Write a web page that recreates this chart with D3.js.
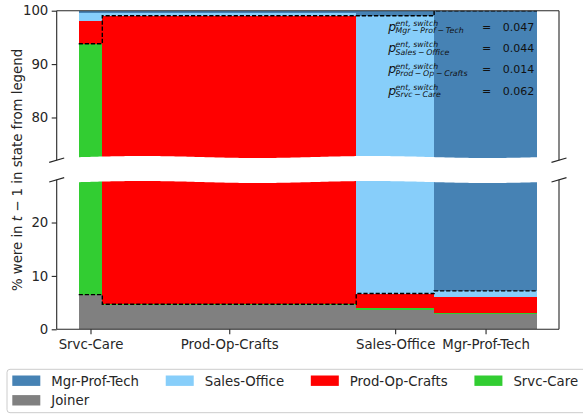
<!DOCTYPE html>
<html><head><meta charset="utf-8">
<script src="https://cdn.jsdelivr.net/npm/d3@7"></script>
<style>
html,body{margin:0;padding:0;background:#fff;}
svg{display:block;font-family:"DejaVu Sans",sans-serif;}
</style></head>
<body>
<svg id="chart" width="583" height="414"></svg>
<script>
// ---- data ----
const categories = ["Srvc-Care", "Prod-Op-Crafts", "Sales-Office", "Mgr-Prof-Tech"];
const barWidths  = [5.15, 55.4, 17.0, 22.45];           // share of joiners per origin state
const seriesNames = ["Joiner", "Srvc-Care", "Prod-Op-Crafts", "Sales-Office", "Mgr-Prof-Tech"];
const joinerVals = [6.5, 4.5, 3.6, 2.8];
const srvcVals   = [87.3, 0.2, 0.3, 0.2];
const prodVals   = [4.3, 94.35, 2.8, 3.0];
const salesVals  = [1.4, 0.45, 92.35, 1.2];
const mgrVals    = [0.5, 0.5, 0.95, 92.8];
const legendOrder = ["Mgr-Prof-Tech", "Sales-Office", "Prod-Op-Crafts", "Srvc-Care", "Joiner"];
const annotNames  = ["Mgr − Prof − Tech", "Sales − Office", "Prod − Op − Crafts", "Srvc − Care"];
const annotVals   = ["0.047", "0.044", "0.014", "0.062"];
const topTicks = [80, 90, 100];
const botTicks = [0, 10, 20];
const colors = {"Mgr-Prof-Tech":"#4682b4","Sales-Office":"#87cefa","Prod-Op-Crafts":"#ff0000","Srvc-Care":"#32cd32","Joiner":"#808080"};

// ---- build table ----
const valuesBySeries = {"Joiner":joinerVals,"Srvc-Care":srvcVals,"Prod-Op-Crafts":prodVals,"Sales-Office":salesVals,"Mgr-Prof-Tech":mgrVals};
const rows = categories.map((c,i)=>{ const r={cat:c}; seriesNames.forEach(s=>r[s]=valuesBySeries[s][i]); return r; });
const stack = d3.stack().keys(seriesNames)(rows);
let acc=0; const x0s=[], x1s=[];
barWidths.forEach(w=>{x0s.push(acc); acc+=w; x1s.push(acc);});
const T = acc, m = 0.048*T;

const svg = d3.select("#chart");
const L=56.7, R=559, TOP=10.7, TOPBOT=160.2, BOTTOP=179.8, BOT=329.3;
const x = d3.scaleLinear().domain([-m, T+m]).range([L,R]);
const yT = d3.scaleLinear().domain([72,100]).range([TOPBOT,TOP]);
const yB = d3.scaleLinear().domain([0,28]).range([BOT,BOTTOP]);
const ink="#262626";

const defs=svg.append("defs");
defs.append("clipPath").attr("id","cT").append("rect").attr("x",L).attr("y",TOP).attr("width",R-L).attr("height",TOPBOT-TOP);
defs.append("clipPath").attr("id","cB").append("rect").attr("x",L).attr("y",BOTTOP).attr("width",R-L).attr("height",BOT-BOTTOP);

[[yT,"cT"],[yB,"cB"]].forEach(([y,clip])=>{
  const g=svg.append("g").attr("clip-path",`url(#${clip})`);
  stack.forEach(layer=>{
    g.selectAll(null).data(layer).enter().append("rect")
      .attr("x",(d,i)=>x(x0s[i])).attr("width",(d,i)=>x(x1s[i])-x(x0s[i]))
      .attr("y",d=>y(d[1])).attr("height",d=>Math.max(0,y(d[0])-y(d[1])))
      .attr("fill",colors[layer.key]).attr("shape-rendering","crispEdges");
  });
  // dashed outline of own-state segment
  const own = categories.map((c,i)=>stack.find(l=>l.key===c)[i]);
  ["lo","hi"].forEach(k=>{
    const vals = own.map(d=>k==="lo"?d[0]:d[1]);
    let p=`M${x(x0s[0])},${y(vals[0])}`;
    vals.forEach((v,i)=>{ p+=`V${y(v)}H${x(x1s[i])}`; });
    g.append("path").attr("d",p).attr("fill","none").attr("stroke","#000")
      .attr("stroke-width",1.4).attr("stroke-dasharray","4.2,1.9");
  });
});

// wavy white break band
const wave = xx => 1.0*Math.sin(2*Math.PI*(xx-200)/230);
const xs = d3.range(L+0.8, R-0.8, 2).concat([R-0.8]);
let band = "M"+xs.map(xx=>`${xx},${157+wave(xx)}`).join("L");
band += "L"+xs.slice().reverse().map(xx=>`${xx},${182+wave(xx)}`).join("L")+"Z";
svg.append("path").attr("d",band).attr("fill","#fff");

// spines
const sp=svg.append("g").attr("stroke",ink).attr("stroke-width",1.1).attr("fill","none");
sp.append("line").attr("x1",L).attr("x2",R).attr("y1",TOP).attr("y2",TOP);
sp.append("line").attr("x1",L).attr("x2",R).attr("y1",BOT).attr("y2",BOT);
[L,R].forEach(xx=>{
  sp.append("line").attr("x1",xx).attr("x2",xx).attr("y1",TOP).attr("y2",TOPBOT);
  sp.append("line").attr("x1",xx).attr("x2",xx).attr("y1",BOTTOP).attr("y2",BOT);
  [TOPBOT,BOTTOP].forEach(yy=>{
    sp.append("line").attr("x1",xx-7.5).attr("x2",xx+7.5).attr("y1",yy+2.2).attr("y2",yy-2.2);
  });
});

// axes
function styleAxis(g){
  g.select(".domain").remove();
  g.selectAll("line").attr("stroke",ink).attr("stroke-width",1.1);
  g.selectAll("text").attr("fill",ink).style("font-size","13.3px").style("font-family","DejaVu Sans");
}
svg.append("g").attr("transform",`translate(${L},0)`).call(d3.axisLeft(yT).tickValues(topTicks).tickSize(5).tickPadding(3.4)).call(styleAxis);
svg.append("g").attr("transform",`translate(${L},0)`).call(d3.axisLeft(yB).tickValues(botTicks).tickSize(5).tickPadding(3.4)).call(styleAxis);
const centers = x0s.map((v,i)=>(v+x1s[i])/2);
svg.append("g").attr("transform",`translate(0,${BOT})`).call(d3.axisBottom(x).tickValues(centers).tickFormat((d,i)=>categories[i]).tickSize(5).tickPadding(5)).call(styleAxis);

// y label
const yl=svg.append("text").attr("transform",`translate(21.5,170) rotate(-90)`).attr("text-anchor","middle")
  .attr("fill",ink).style("font-size","13.3px");
yl.append("tspan").text("% were in ");
yl.append("tspan").attr("font-style","italic").text("t");
yl.append("tspan").text(" − 1 in state from legend");

// annotations
annotNames.forEach((nm,i)=>{
  const by = 30.7 + i*21.3;
  const g=svg.append("g").attr("fill","#111");
  g.append("text").attr("x",388.3).attr("y",by).attr("font-style","italic").style("font-size","12.5px").text("p");
  g.append("text").attr("x",395.5).attr("y",by-4.8).attr("font-style","italic").style("font-size","7.8px").text("ent, switch");
  const sub=g.append("text").attr("x",395.5).attr("y",by+2.6).attr("font-style","italic").style("font-size","7.8px");
  nm.split(" − ").forEach((part,j)=>{
    if(j>0){ sub.append("tspan").attr("dx","0.22em").attr("font-style","normal").text("−"); sub.append("tspan").attr("dx","0.22em").text(part); }
    else sub.append("tspan").text(part);
  });
  g.append("text").attr("x",486.7).attr("y",by).attr("text-anchor","middle").style("font-size","11px").text("=");
  g.append("text").attr("x",502.7).attr("y",by).style("font-size","11px").text(annotVals[i]);
});

// legend
const lg=svg.append("g");
lg.append("rect").attr("x",7).attr("y",369.3).attr("width",600).attr("height",43.4).attr("rx",3)
  .attr("fill","#fff").attr("stroke","#cccccc").attr("stroke-width",1);
let cx=12.3;
legendOrder.forEach((nm,i)=>{
  const row = i<4?0:1;
  if(i===4) cx=12.3;
  const cy = row===0?380.7:400.3;
  lg.append("rect").attr("x",cx).attr("y",cy-5.2).attr("width",28).attr("height",10.4).attr("fill",colors[nm]);
  const t=lg.append("text").attr("x",cx+39).attr("y",cy+4.8).attr("fill",ink).style("font-size","13.3px").text(nm);
  cx = cx+39+t.node().getComputedTextLength()+26.7;
});
</script>
</body></html>
